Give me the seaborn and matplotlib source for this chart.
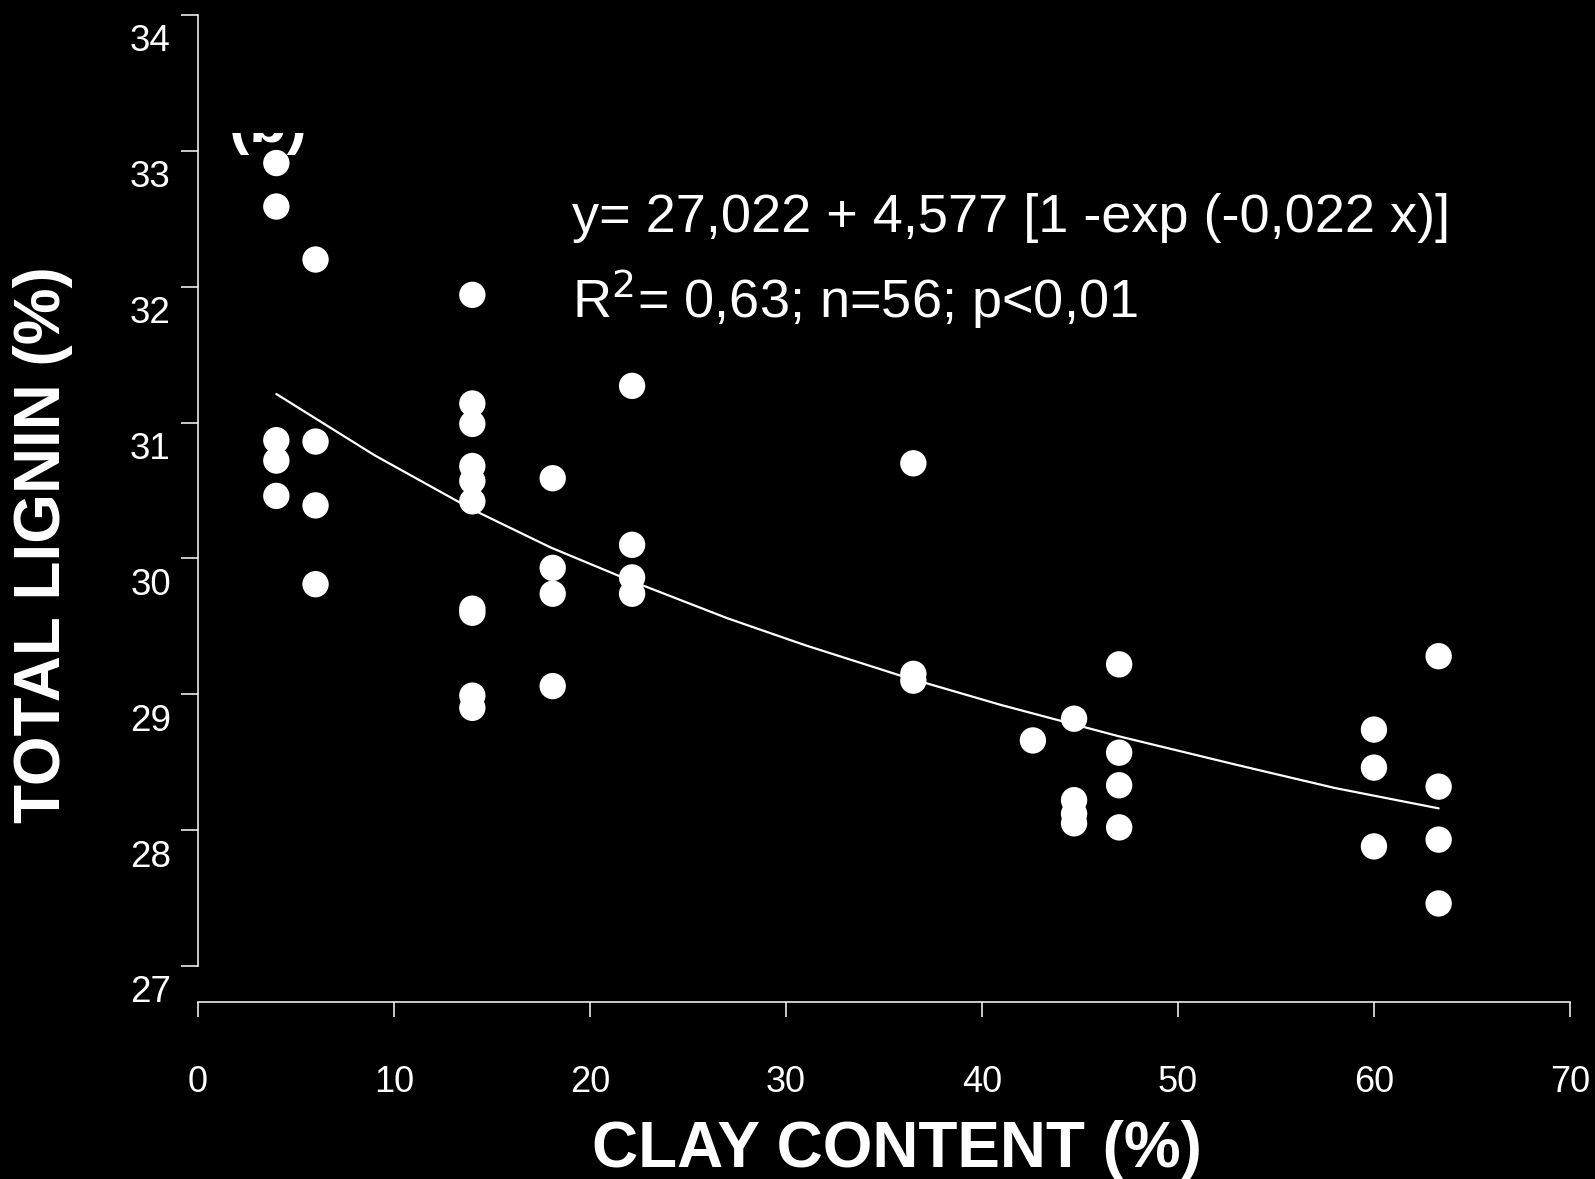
import numpy as np
import pandas as pd
import seaborn as sns
import matplotlib
matplotlib.use("Agg")
import matplotlib.pyplot as plt
from matplotlib.transforms import Bbox, TransformedBbox, ScaledTranslation

# ---- data ----
clay = [4, 4, 4, 4, 4,
        6, 6, 6, 6,
        14, 14, 14, 14, 14, 14, 14, 14, 14, 14,
        18.1, 18.1, 18.1, 18.1,
        22.15, 22.15, 22.15, 22.15,
        36.5, 36.5, 36.5,
        42.6,
        44.7, 44.7, 44.7, 44.7,
        47, 47, 47, 47,
        60, 60, 60,
        63.3, 63.3, 63.3, 63.3]
lignin = [32.91, 32.59, 30.87, 30.72, 30.46,
          32.20, 30.86, 30.39, 29.81,
          31.94, 31.14, 30.99, 30.68, 30.57, 30.42, 29.63, 29.60, 28.99, 28.90,
          30.59, 29.93, 29.74, 29.06,
          31.27, 30.10, 29.86, 29.74,
          30.70, 29.15, 29.10,
          28.66,
          28.82, 28.22, 28.12, 28.05,
          29.22, 28.57, 28.33, 28.02,
          28.74, 28.46, 27.88,
          29.28, 28.32, 27.93, 27.46]

# fitted curve
curve_x = [4, 9, 14, 18, 22, 27, 31, 36, 41, 47, 53, 58, 63.3]
curve_y = [31.21, 30.76, 30.36, 30.08, 29.84, 29.56, 29.36, 29.13, 28.92, 28.69, 28.48, 28.31, 28.16]

x_ticks = [0, 10, 20, 30, 40, 50, 60, 70]
y_ticks = [27, 28, 29, 30, 31, 32, 33, 34]

eq_line1 = "y= 27,022 + 4,577 [1 -exp (-0,022 x)]"
eq_line2 = "R$^{2}$= 0,63; n=56; p<0,01"
panel_label = "(b)"
x_label = "CLAY CONTENT (%)"
y_label = "TOTAL LIGNIN (%)"

pts = pd.DataFrame({"clay": clay, "lignin": lignin})
fit = pd.DataFrame({"clay": curve_x, "lignin": curve_y})

sns.set_style("white")
plt.rcParams["font.family"] = ["Liberation Sans", "DejaVu Sans"]

fig = plt.figure(figsize=(15.95, 11.79), dpi=100, facecolor="black")
ax = fig.add_axes([0.1241, 0.1807, 0.8602, 0.8066])
ax.set_facecolor("black")

sns.scatterplot(data=pts, x="clay", y="lignin", ax=ax, color="white",
                s=360, edgecolor="none", linewidth=0, zorder=3)
sns.lineplot(data=fit, x="clay", y="lignin", ax=ax, color="white",
             linewidth=1.6, zorder=2)

ax.set_xlim(0, 70)
ax.set_ylim(27, 34)
ax.set_xticks(x_ticks)
ax.set_yticks(y_ticks)
ax.set_xticklabels([str(v) for v in x_ticks])
ax.set_yticklabels([str(v) for v in y_ticks])

for side in ["top", "right"]:
    ax.spines[side].set_visible(False)
for side in ["left", "bottom"]:
    ax.spines[side].set_color("white")
    ax.spines[side].set_linewidth(1.1)
ax.spines["bottom"].set_position(("outward", 26))
ax.spines["bottom"].set_bounds(0, 70)
ax.spines["left"].set_bounds(27, 34)

ax.tick_params(axis="y", colors="white", direction="out", length=12.5, width=1.1,
               labelsize=26.5, pad=7, left=True)
ax.tick_params(axis="x", colors="white", direction="out", length=11, width=1.1,
               labelsize=26, pad=34, bottom=True)

# tick labels sit a little below their ticks in the reference
off = ScaledTranslation(0, -0.23, fig.dpi_scale_trans)
for lab in ax.get_yticklabels():
    lab.set_transform(lab.get_transform() + off)

ax.set_xlabel("")
ax.set_ylabel("")
fig.text(0.5625, 0.025, x_label, color="white", fontsize=46, fontweight="bold",
         ha="center", va="center")
fig.text(0.027, 0.538, y_label, color="white", fontsize=46, fontweight="bold",
         ha="center", va="center", rotation=90)

ax.text(0.3585, 0.815, eq_line1, transform=fig.transFigure, color="white",
        fontsize=39, ha="left", va="center")
ax.text(0.3585, 0.746, eq_line2, transform=fig.transFigure, color="white",
        fontsize=39, ha="left", va="center")

# panel label, only its lower part visible as in the reference
clip = TransformedBbox(Bbox([[0.0, 0.0], [1.0, 1 - 133 / 1179]]), fig.transFigure)
t = fig.text(0.1680, 1 - 142 / 1179, panel_label, color="white", fontsize=44,
             fontweight="bold", ha="center", va="baseline")
t.set_clip_box(clip)
t.set_clip_on(True)

fig.savefig("out.png", dpi=100, facecolor="black")
